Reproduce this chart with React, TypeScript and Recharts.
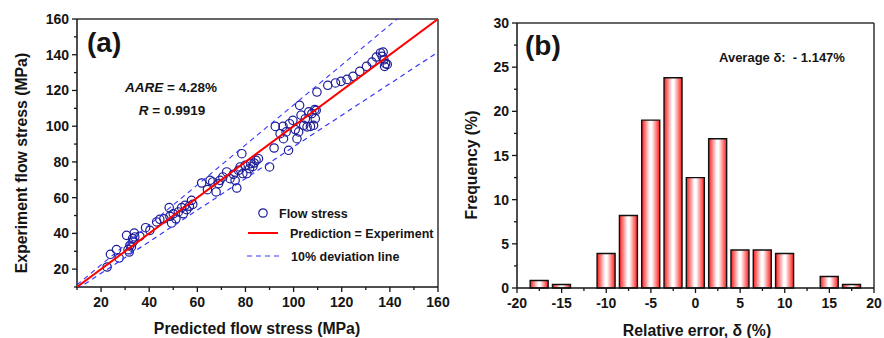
import React from 'react';
import { ScatterChart, Scatter, BarChart, Bar, XAxis, YAxis, ReferenceLine, Legend } from 'recharts';

// panel (a): predicted vs experimental flow stress (MPa)
const predicted = [
  22.5, 23.9, 26.4, 27.5, 30.6, 31.2, 31.7, 32.6, 33.3, 33.8, 33.1, 34.0, 32.0, 36.1, 38.5, 40.3,
  43.1, 44.4, 46.1, 48.3, 48.6, 49.3, 50.0, 51.1, 52.1, 53.5, 54.2, 54.9, 55.6, 56.7, 57.6, 58.1,
  61.8, 64.2, 65.3, 66.4, 67.8, 68.8, 69.4, 70.6, 72.2, 73.6, 75.0, 75.7, 76.4, 77.1, 77.8, 78.5,
  78.9, 79.9, 80.6, 81.7, 82.2, 83.1, 83.6, 84.4, 85.4, 90.0, 91.9, 92.4, 94.4, 95.6, 95.8, 96.9,
  97.9, 98.3, 99.7, 100.7, 101.4, 102.1, 102.5, 103.1, 104.2, 104.9, 105.6, 106.3, 107.0, 107.6,
  108.3, 108.8, 109.0, 109.4, 109.7, 114.2, 117.4, 119.7, 122.2, 124.7, 127.5, 130.3, 132.6, 134.4,
  136.1, 137.2, 136.8, 137.5, 138.2, 138.9, 137.8,
];
const experiment = [
  21.2, 28.3, 30.9, 26.2, 38.9, 30.9, 29.6, 32.4, 35.2, 40.2, 37.1, 38.0, 33.3, 38.4, 43.2, 41.7,
  46.4, 47.9, 48.2, 54.4, 49.6, 45.8, 51.0, 48.2, 52.0, 54.4, 51.0, 55.7, 53.3, 55.2, 58.5, 56.3,
  68.2, 64.5, 69.7, 68.8, 63.2, 67.8, 69.7, 71.6, 74.4, 70.6, 73.1, 69.7, 65.4, 75.3, 77.2, 84.6,
  73.5, 78.1, 73.5, 76.2, 79.0, 77.5, 79.4, 80.9, 81.8, 77.2, 87.8, 99.9, 95.8, 99.9, 93.0, 96.8,
  86.5, 101.4, 103.3, 98.1, 93.0, 96.8, 111.7, 106.2, 100.5, 104.2, 99.6, 108.0, 99.9, 107.1,
  100.5, 109.3, 104.2, 108.9, 119.1, 122.9, 124.2, 125.1, 126.2, 127.9, 130.7, 133.5, 135.9, 138.7,
  141.0, 141.5, 139.1, 137.2, 135.0, 134.6, 133.5,
];
const flowPoints = predicted.map((x, i) => ({ x, y: experiment[i] }));

const idealLine = [{ x: 10, y: 10 }, { x: 160, y: 160 }];
const upperDev = [{ x: 10, y: 11.2 }, { x: 143, y: 160 }];
const lowerDev = [{ x: 10, y: 8.8 }, { x: 160, y: 141.5 }];

const stressTicks = [10, 20, 30, 40, 50, 60, 70, 80, 90, 100, 110, 120, 130, 140, 150, 160];

// panel (b): histogram of relative error
const errorBins = [-17.5, -15, -10, -7.5, -5, -2.5, 0, 2.5, 5, 7.5, 10, 15, 17.5];
const frequency = [0.85, 0.4, 3.9, 8.2, 19.0, 23.8, 12.5, 16.9, 4.3, 4.3, 3.9, 1.3, 0.4];
const errorData = errorBins.map((x, i) => ({ x, freq: frequency[i] }));
const errorTicks = [-20, -17.5, -15, -12.5, -10, -7.5, -5, -2.5, 0, 2.5, 5, 7.5, 10, 12.5, 15, 17.5, 20];
const freqTicks = [0, 2.5, 5, 7.5, 10, 12.5, 15, 17.5, 20, 22.5, 25, 27.5, 30];

const FONT = '"Liberation Sans", Arial, Helvetica, sans-serif';
const INK = '#151515';

const BottomTick = (props: any) => {
  const { x, y, payload, step } = props;
  const v = payload.value;
  const major = v % step === 0;
  return (
    <g>
      <line x1={x} x2={x} y1={y} y2={y + (major ? 5 : 3)} stroke={INK} strokeWidth={1.3} />
      {major && (
        <text x={x} y={y + 20} textAnchor="middle" fontFamily={FONT} fontWeight="bold" fontSize={14} fill={INK}>
          {v}
        </text>
      )}
    </g>
  );
};

const LeftTick = (props: any) => {
  const { x, y, payload, step } = props;
  const v = payload.value;
  const major = v % step === 0;
  return (
    <g>
      <line x1={x - (major ? 5 : 3)} x2={x} y1={y} y2={y} stroke={INK} strokeWidth={1.3} />
      {major && (
        <text x={x - 8} y={y + 5} textAnchor="end" fontFamily={FONT} fontWeight="bold" fontSize={14} fill={INK}>
          {v}
        </text>
      )}
    </g>
  );
};

const NoDot = () => <g />;

const Ring = (p: any) => (
  <circle cx={p.cx} cy={p.cy} r={4.2} fill="none" stroke="#1e1e96" strokeWidth={1.2} />
);

const FlowLegend = () => (
  <svg width={200} height={66} style={{ overflow: 'visible' }}>
    <g fontFamily={FONT} fontWeight="bold" fontSize={12.5} fill={INK}>
      <circle cx={23} cy={13} r={4.2} fill="none" stroke="#1e1e96" strokeWidth={1.2} />
      <text x={39} y={17.5}>Flow stress</text>
      <line x1={8} x2={38} y1={33} y2={33} stroke="#ff0000" strokeWidth={2} />
      <text x={50} y={37.5}>Prediction = Experiment</text>
      <line x1={7} x2={39} y1={56} y2={56} stroke="#3535ff" strokeWidth={1.2} strokeDasharray="5 4" />
      <text x={51} y={60.5}>10% deviation line</text>
    </g>
  </svg>
);

const txt = { fontFamily: FONT, fontWeight: 'bold' as const, fill: INK };

export default function App() {
  return (
    <div style={{ position: 'absolute', left: 0, top: 0, width: 884, height: 338, background: '#fff' }}>
      <div style={{ position: 'absolute', left: 0, top: 0 }}>
        <ScatterChart width={450} height={338} margin={{ top: 19, right: 12, bottom: 0, left: 0 }}>
          <XAxis
            type="number"
            dataKey="x"
            domain={[10, 160]}
            ticks={stressTicks}
            interval={0}
            tickSize={0}
            tickMargin={0}
            tickLine={false}
            height={51}
            axisLine={{ stroke: INK, strokeWidth: 1.5 }}
            tick={(p: any) => <BottomTick {...p} step={20} />}
            allowDataOverflow
          />
          <YAxis
            type="number"
            dataKey="y"
            domain={[10, 160]}
            ticks={stressTicks}
            interval={0}
            tickSize={0}
            tickMargin={0}
            tickLine={false}
            width={77}
            axisLine={{ stroke: INK, strokeWidth: 1.5 }}
            tick={(p: any) => <LeftTick {...p} step={20} />}
            allowDataOverflow
          />
          <ReferenceLine y={160} stroke="#333" strokeWidth={1.5} />
          <ReferenceLine x={160} stroke="#333" strokeWidth={1.5} />
          <Scatter data={flowPoints} shape={Ring} isAnimationActive={false} />
          <Scatter data={upperDev} line={{ stroke: '#3535ff', strokeWidth: 1.2, strokeDasharray: '5 4' }} shape={NoDot} isAnimationActive={false} />
          <Scatter data={lowerDev} line={{ stroke: '#3535ff', strokeWidth: 1.2, strokeDasharray: '5 4' }} shape={NoDot} isAnimationActive={false} />
          <Scatter data={idealLine} line={{ stroke: '#ff0000', strokeWidth: 2 }} shape={NoDot} isAnimationActive={false} />
          <Legend
            layout="vertical"
            align="center"
            verticalAlign="middle"
            content={() => <FlowLegend />}
            wrapperStyle={{ left: 240, top: 200, width: 200, height: 66 }}
          />
        </ScatterChart>
      </div>

      <div style={{ position: 'absolute', left: 440, top: 0 }}>
        <BarChart width={444} height={338} data={errorData} margin={{ top: 23, right: 10, bottom: 0, left: 0 }}>
          <defs>
            <linearGradient id="barFill" x1="0" y1="0" x2="1" y2="0">
              <stop offset="0%" stopColor="#ff1a1a" />
              <stop offset="45%" stopColor="#ffffff" />
              <stop offset="55%" stopColor="#ffffff" />
              <stop offset="100%" stopColor="#ff1a1a" />
            </linearGradient>
          </defs>
          <XAxis
            type="number"
            dataKey="x"
            domain={[-20, 20]}
            ticks={errorTicks}
            interval={0}
            tickSize={0}
            tickMargin={0}
            tickLine={false}
            height={50}
            axisLine={{ stroke: INK, strokeWidth: 1.5 }}
            tick={(p: any) => <BottomTick {...p} step={5} />}
          />
          <YAxis
            type="number"
            domain={[0, 30]}
            ticks={freqTicks}
            interval={0}
            tickSize={0}
            tickMargin={0}
            tickLine={false}
            width={77}
            axisLine={{ stroke: INK, strokeWidth: 1.5 }}
            tick={(p: any) => <LeftTick {...p} step={5} />}
          />
          <ReferenceLine y={30} stroke="#333" strokeWidth={1.5} />
          <ReferenceLine x={20} stroke="#333" strokeWidth={1.5} />
          <Bar dataKey="freq" barSize={18} fill="url(#barFill)" stroke="#111" strokeWidth={1.4} isAnimationActive={false} />
        </BarChart>
      </div>

      <svg width={884} height={338} style={{ position: 'absolute', left: 0, top: 0, pointerEvents: 'none' }}>
        <text x={87} y={52} fontSize={28} {...txt}>(a)</text>
        <text x={171} y={92} fontSize={13.5} textAnchor="middle" {...txt}>
          <tspan fontStyle="italic">AARE</tspan> = 4.28%
        </text>
        <text x={172} y={115} fontSize={13.5} textAnchor="middle" {...txt}>
          <tspan fontStyle="italic">R</tspan> = 0.9919
        </text>
        <text x={257} y={334} fontSize={15.8} textAnchor="middle" {...txt}>Predicted flow stress (MPa)</text>
        <text x={0} y={0} fontSize={15.8} textAnchor="middle" {...txt} transform="translate(27 163) rotate(-90)">
          Experiment flow stress (MPa)
        </text>

        <text x={525} y={55} fontSize={28} {...txt}>(b)</text>
        <text x={719} y={62} fontSize={13} {...txt}>{'Average δ:\u00a0\u00a0- 1.147%'}</text>
        <text x={697} y={336} fontSize={15.8} textAnchor="middle" {...txt}>Relative error, δ (%)</text>
        <text x={0} y={0} fontSize={15.8} textAnchor="middle" {...txt} transform="translate(477 165) rotate(-90)">
          Frequency (%)
        </text>
      </svg>
    </div>
  );
}
